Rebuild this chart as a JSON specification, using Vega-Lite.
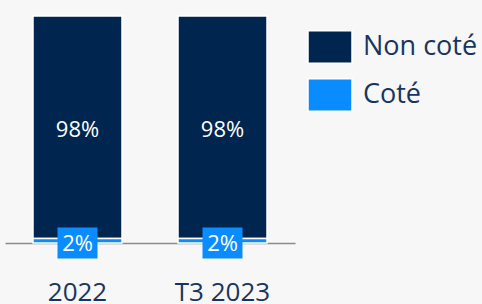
{
  "$schema": "https://vega.github.io/schema/vega-lite/v6.json",
  "autosize": "none",
  "width": 290,
  "height": 227,
  "padding": {"left": 5, "top": 16, "right": 187, "bottom": 61},
  "background": "#f7f7f7",
  "config": {
    "view": {"stroke": null},
    "font": "Open Sans"
  },
  "data": {
    "values": [
      {"period": "2022", "type": "Non coté", "value": 98, "ord": 2, "label": "98%"},
      {"period": "2022", "type": "Coté", "value": 2, "ord": 1, "label": "2%"},
      {"period": "T3 2023", "type": "Non coté", "value": 98, "ord": 2, "label": "98%"},
      {"period": "T3 2023", "type": "Coté", "value": 2, "ord": 1, "label": "2%"}
    ]
  },
  "transform": [
    {"stack": "value", "groupby": ["period"], "sort": [{"field": "ord"}], "as": ["v0", "v1"]},
    {"calculate": "(datum.v0 + datum.v1) / 2", "as": "mid"}
  ],
  "encoding": {
    "x": {
      "field": "period",
      "type": "nominal",
      "sort": ["2022", "T3 2023"],
      "scale": {"paddingInner": 0, "paddingOuter": 0},
      "axis": {
        "title": null,
        "ticks": false,
        "labelAngle": 0,
        "labelFontSize": 26,
        "labelColor": "#17365d",
        "labelBaseline": "alphabetic",
        "labelPadding": 57,
        "domainColor": "#8a8a8a",
        "domainWidth": 1.5,
        "zindex": 0
      }
    }
  },
  "layer": [
    {
      "mark": {"type": "bar", "size": 89, "stroke": "white", "strokeWidth": 1.5},
      "encoding": {
        "y": {"field": "v0", "type": "quantitative", "scale": {"domain": [0, 100]}, "axis": null},
        "y2": {"field": "v1"},
        "color": {
          "field": "type",
          "type": "nominal",
          "scale": {"domain": ["Non coté", "Coté"], "range": ["#002650", "#0a8cff"]},
          "legend": {
            "title": null,
            "orient": "none",
            "legendX": 302,
            "legendY": 8,
            "padding": 0,
            "symbolType": "M-1,-0.74H1V0.74H-1Z",
            "symbolSize": 1936,
            "symbolStrokeColor": "white",
            "symbolStrokeWidth": 1.5,
            "symbolOpacity": 1,
            "labelFontSize": 27,
            "labelColor": "#17365d",
            "labelOffset": 10,
            "rowPadding": 5
          }
        }
      }
    },
    {
      "transform": [{"filter": "datum.type === 'Coté'"}],
      "mark": {"type": "point", "shape": "M-1.29,-1H1.29V1H-1.29Z", "filled": true, "opacity": 1, "size": 961, "color": "#0a8cff"},
      "encoding": {
        "y": {"field": "v0", "type": "quantitative"}
      }
    },
    {
      "transform": [{"filter": "datum.type === 'Coté'"}],
      "mark": {"type": "text", "color": "white", "fontSize": 22, "baseline": "middle", "dy": 1},
      "encoding": {
        "y": {"field": "v0", "type": "quantitative"},
        "text": {"field": "label"}
      }
    },
    {
      "transform": [{"filter": "datum.type === 'Non coté'"}],
      "mark": {"type": "text", "color": "white", "fontSize": 22, "baseline": "middle", "dy": 3},
      "encoding": {
        "y": {"field": "mid", "type": "quantitative"},
        "text": {"field": "label"}
      }
    }
  ]
}
